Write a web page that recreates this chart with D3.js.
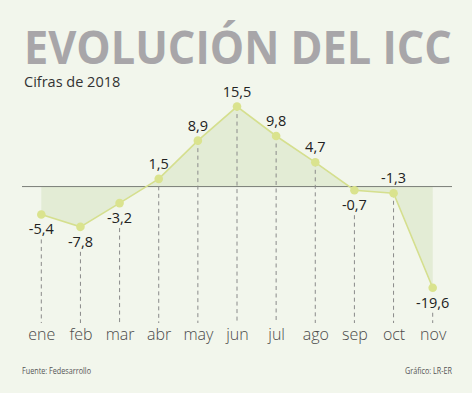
<!DOCTYPE html>
<html>
<head>
<meta charset="utf-8">
<script src="https://cdn.jsdelivr.net/npm/d3@7"></script>
<style>
  html, body { margin: 0; padding: 0; background: #ffffff; }
  svg { display: block; }
</style>
</head>
<body>
<svg id="chart" width="474" height="395"></svg>
<script>
const months = ["ene", "feb", "mar", "abr", "may", "jun", "jul", "ago", "sep", "oct", "nov"];
const values = [-5.4, -7.8, -3.2, 1.5, 8.9, 15.5, 9.8, 4.7, -0.7, -1.3, -19.6];
const titleText = "EVOLUCIÓN DEL ICC";
const subtitleText = "Cifras de 2018";
const sourceText = "Fuente: Fedesarrollo";
const creditText = "Gráfico: LR-ER";
const labelsBelow = new Set(["ene", "feb", "mar", "sep", "nov"]);

const data = months.map((m, i) => ({ month: m, value: values[i] }));
const locale = d3.formatLocale({ decimal: ",", thousands: ".", grouping: [3], currency: ["", ""], minus: "-" });
const fmt = locale.format(".1f");

const svg = d3.select("#chart");
svg.append("rect").attr("x", 0).attr("y", 0).attr("width", 472).attr("height", 393).attr("fill", "#f2f6ec");

const x = d3.scalePoint().domain(months).range([41.3, 432.7]);
const y = d3.scaleLinear().domain([-20, 16]).range([289.8, 104]);

// Title (horizontally scaled to the reference width)
const title = svg.append("text").attr("x", 0).attr("y", 0)
  .attr("font-family", "Open Sans").attr("font-weight", 700).attr("font-size", 47)
  .attr("fill", "#a8a6a9").text(titleText);
const tw = title.node().getComputedTextLength();
title.attr("transform", `translate(24,63.5) scale(${428 / tw},1)`);

svg.append("text").attr("x", 24).attr("y", 87)
  .attr("font-family", "Open Sans").attr("font-size", 14.5).attr("fill", "#333")
  .text(subtitleText);

// Area between line and zero
const area = d3.area().x(d => x(d.month)).y0(y(0)).y1(d => y(d.value));
svg.append("path").datum(data).attr("d", area).attr("fill", "#e3ecd5");

// Zero line
svg.append("line").attr("x1", 22).attr("x2", 452).attr("y1", y(0)).attr("y2", y(0))
  .attr("stroke", "#7a7d78").attr("stroke-width", 1);

// Dashed guides
const labelY = d => labelsBelow.has(d.month) ? y(d.value) + 20 : y(d.value) - 10;
svg.append("g").selectAll("line").data(data).join("line")
  .attr("x1", d => x(d.month)).attr("x2", d => x(d.month))
  .attr("y1", d => labelsBelow.has(d.month) ? labelY(d) + 5 : y(d.value))
  .attr("y2", 323)
  .attr("stroke", "#8a8a8a").attr("stroke-width", 1).attr("stroke-dasharray", "4,3.5");

// Line
const line = d3.line().x(d => x(d.month)).y(d => y(d.value));
svg.append("path").datum(data).attr("d", line).attr("fill", "none")
  .attr("stroke", "#d5df8e").attr("stroke-width", 1.6);

// Points
svg.append("g").selectAll("circle").data(data).join("circle")
  .attr("cx", d => x(d.month)).attr("cy", d => y(d.value)).attr("r", 4.3)
  .attr("fill", "#dae38e");

// Value labels
svg.append("g").selectAll("text").data(data).join("text")
  .attr("x", d => x(d.month)).attr("y", labelY)
  .attr("text-anchor", "middle").attr("font-family", "Open Sans").attr("font-size", 14.5)
  .attr("fill", "#222").text(d => fmt(d.value));

// Month axis labels
const axis = d3.axisBottom(x).tickSize(0).tickPadding(0);
const gAxis = svg.append("g").attr("transform", "translate(0,325)").call(axis);
gAxis.select(".domain").remove();
gAxis.selectAll("text").attr("font-family", "Open Sans").attr("font-weight", 300).attr("font-size", 16)
  .attr("fill", "#4a4a4a").attr("dy", "0.95em").attr("y", 0);

// Footer
svg.append("text").attr("x", 22).attr("y", 374)
  .attr("font-family", "Open Sans").attr("font-size", 9.5).attr("fill", "#555")
  .attr("textLength", 69).attr("lengthAdjust", "spacingAndGlyphs").text(sourceText);
svg.append("text").attr("x", 452).attr("y", 374).attr("text-anchor", "end")
  .attr("font-family", "Open Sans").attr("font-size", 9.5).attr("fill", "#555")
  .attr("textLength", 47).attr("lengthAdjust", "spacingAndGlyphs").text(creditText);
</script>
</body>
</html>
